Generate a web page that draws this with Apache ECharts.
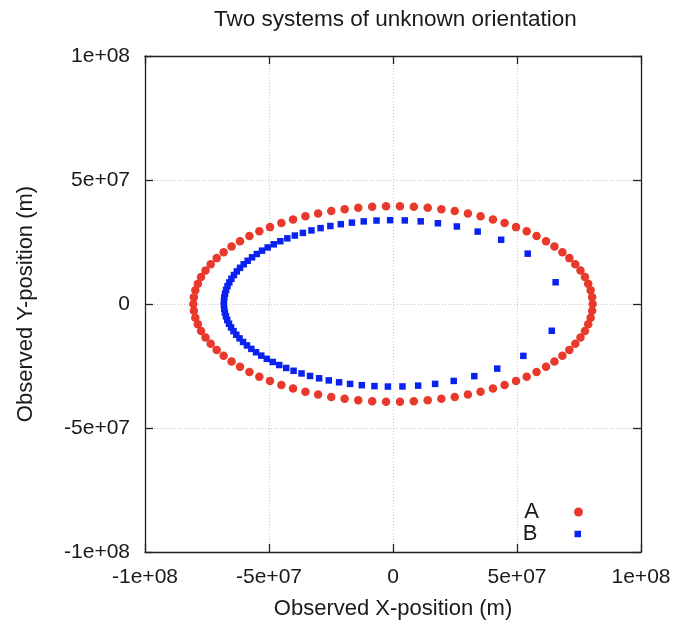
<!DOCTYPE html>
<html>
<head>
<meta charset="utf-8">
<script src="https://cdn.jsdelivr.net/npm/echarts@6/dist/echarts.min.js"></script>
<style>
  html, body { margin: 0; padding: 0; background: #fff; }
  #chart { width: 680px; height: 620px; }
</style>
</head>
<body>
<div id="chart"></div>
<script>
// Values in units of 1e6 m
const UNIT = 1e6;

const xA = [80.5, 80.3, 79.7, 78.7, 77.4, 75.6, 73.5, 71.1, 68.3, 65.1, 61.7, 57.9, 53.9, 49.6, 45.0, 40.3, 35.3, 30.2, 24.9, 19.5, 14.0, 8.4, 2.8,
  -2.8, -8.4, -14.0, -19.5, -24.9, -30.2, -35.3, -40.3, -45.0, -49.6, -53.9, -57.9, -61.7, -65.1, -68.3, -71.1, -73.5, -75.6, -77.4, -78.7, -79.7, -80.3, -80.5,
  -80.3, -79.7, -78.7, -77.4, -75.6, -73.5, -71.1, -68.3, -65.1, -61.7, -57.9, -53.9, -49.6, -45.0, -40.3, -35.3, -30.2, -24.9, -19.5, -14.0, -8.4, -2.8,
  2.8, 8.4, 14.0, 19.5, 24.9, 30.2, 35.3, 40.3, 45.0, 49.6, 53.9, 57.9, 61.7, 65.1, 68.3, 71.1, 73.5, 75.6, 77.4, 78.7, 79.7, 80.3];
const yA = [0, 2.7, 5.5, 8.2, 10.9, 13.5, 16.0, 18.5, 20.9, 23.2, 25.3, 27.4, 29.3, 31.0, 32.7, 34.1, 35.4, 36.5, 37.5, 38.2, 38.8, 39.2, 39.4,
  39.4, 39.2, 38.8, 38.2, 37.5, 36.5, 35.4, 34.1, 32.7, 31.0, 29.3, 27.4, 25.3, 23.2, 20.9, 18.5, 16.0, 13.5, 10.9, 8.2, 5.5, 2.7, 0,
  -2.7, -5.5, -8.2, -10.9, -13.5, -16.0, -18.5, -20.9, -23.2, -25.3, -27.4, -29.3, -31.0, -32.7, -34.1, -35.4, -36.5, -37.5, -38.2, -38.8, -39.2, -39.4,
  -39.4, -39.2, -38.8, -38.2, -37.5, -36.5, -35.4, -34.1, -32.7, -31.0, -29.3, -27.4, -25.3, -23.2, -20.9, -18.5, -16.0, -13.5, -10.9, -8.2, -5.5, -2.7];

const xB = [64.01,
  65.58, 54.32, 43.60, 34.15, 25.75, 18.10, 11.16, 4.76, -1.15, -6.65, -11.79, -16.57, -21.06, -25.26, -29.20, -32.88, -36.34, -39.58, -42.60, -45.44,
  -48.08, -50.53, -52.80, -54.91, -56.83, -58.61, -60.20, -61.68, -62.98, -64.14, -65.15, -66.01, -66.73, -67.30, -67.73, -68.03, -68.18,
  -68.19, -68.06, -67.79, -67.38, -66.83, -66.13, -65.29, -64.31, -63.18, -61.89, -60.46, -58.88, -57.12, -55.22, -53.13, -50.89, -48.47, -45.87,
  -43.06, -40.08, -36.87, -33.45, -29.79, -25.90, -21.74, -17.30, -12.56, -7.48, -2.05, 3.81, 10.14, 16.99, 24.48, 32.78, 42.03, 52.56];
const yB = [-10.79,
  8.76, 20.30, 25.91, 29.20, 31.26, 32.56, 33.33, 33.71, 33.80, 33.65, 33.31, 32.81, 32.18, 31.44, 30.60, 29.67, 28.67, 27.60, 26.48, 25.30,
  24.07, 22.81, 21.51, 20.17, 18.82, 17.43, 16.04, 14.59, 13.14, 11.67, 10.19, 8.70, 7.20, 5.69, 4.17, 2.65, 1.13,
  -0.39, -1.91, -3.43, -4.95, -6.46, -7.96, -9.46, -10.94, -12.41, -13.86, -15.30, -16.71, -18.10, -19.47, -20.81, -22.11, -23.38, -24.61,
  -25.80, -26.93, -28.00, -29.02, -29.96, -30.81, -31.57, -32.22, -32.74, -33.11, -33.29, -33.24, -32.91, -32.21, -31.01, -29.09, -26.05, -20.92];

const tickValues = [-1e8, -5e7, 0, 5e7, 1e8];
const tickLabels = ['-1e+08', '-5e+07', '0', '5e+07', '1e+08'];
const seriesNames = ['A', 'B'];

const dataA = xA.map((x, i) => [x * UNIT, yA[i] * UNIT]);
const dataB = xB.map((x, i) => [x * UNIT, yB[i] * UNIT]);

const FONT = '"Liberation Sans", Arial, sans-serif';
const TXT = '#1a1a1a';
function fmt(v) {
  const i = tickValues.findIndex(t => Math.abs(t - v) < 1);
  return i >= 0 ? tickLabels[i] : '';
}
const gridLine = { show: true, lineStyle: { color: '#c8c8c8', type: [1, 2], width: 1 } };
const axisLine = { show: true, onZero: false, lineStyle: { color: '#222', width: 1.3 } };
const tick = { show: true, inside: true, length: 8, lineStyle: { color: '#222', width: 1.3 } };

const chart = echarts.init(document.getElementById('chart'), null, { renderer: 'canvas' });
chart.setOption({
  animation: false,
  backgroundColor: '#fff',
  title: {
    text: 'Two systems of unknown orientation',
    left: 209, top: 3,
    textStyle: { fontFamily: FONT, fontSize: 22.5, fontWeight: 'normal', color: TXT }
  },
  grid: { left: 145, right: 39, top: 56, bottom: 68, containLabel: false, outerBoundsMode: 'none' },
  legend: [
    {
      data: [{ name: 'A', icon: 'circle' }],
      right: 92, top: 496, orient: 'vertical', align: 'right',
      itemWidth: 9, itemHeight: 9,
      textStyle: { fontFamily: FONT, fontSize: 22, color: TXT, lineHeight: 22, padding: [0, 30, 0, 0] }
    },
    {
      data: [{ name: 'B', icon: 'rect' }],
      right: 94, top: 518, orient: 'vertical', align: 'right',
      itemWidth: 6.5, itemHeight: 6.5,
      textStyle: { fontFamily: FONT, fontSize: 22, color: TXT, lineHeight: 22, padding: [0, 32, 0, 0] }
    }
  ],
  xAxis: [
    {
      type: 'value', position: 'bottom', min: -1e8, max: 1e8, interval: 5e7,
      name: 'Observed X-position (m)', nameLocation: 'middle', nameGap: 46,
      nameTextStyle: { fontFamily: FONT, fontSize: 22, color: TXT },
      axisLine: axisLine, axisTick: tick, splitLine: gridLine,
      axisLabel: { formatter: fmt, margin: 15, fontFamily: FONT, fontSize: 21, color: TXT }
    },
    {
      type: 'value', position: 'top', min: -1e8, max: 1e8, interval: 5e7,
      axisLine: axisLine, axisTick: tick, splitLine: { show: false }, axisLabel: { show: false }
    }
  ],
  yAxis: [
    {
      type: 'value', position: 'left', min: -1e8, max: 1e8, interval: 5e7,
      name: 'Observed Y-position (m)', nameLocation: 'middle', nameGap: 108,
      nameTextStyle: { fontFamily: FONT, fontSize: 22, color: TXT },
      axisLine: axisLine, axisTick: tick, splitLine: gridLine,
      axisLabel: { formatter: fmt, margin: 15, fontFamily: FONT, fontSize: 21, color: TXT }
    },
    {
      type: 'value', position: 'right', min: -1e8, max: 1e8, interval: 5e7,
      axisLine: axisLine, axisTick: tick, splitLine: { show: false }, axisLabel: { show: false }
    }
  ],
  series: [
    {
      name: seriesNames[0], type: 'scatter', xAxisIndex: 0, yAxisIndex: 0,
      symbol: 'circle', symbolSize: 8.5, data: dataA,
      itemStyle: { color: '#e8392a', opacity: 1 }
    },
    {
      name: seriesNames[1], type: 'scatter', xAxisIndex: 0, yAxisIndex: 0,
      symbol: 'rect', symbolSize: 6.5, data: dataB,
      itemStyle: { color: '#0a22f0', opacity: 1 }
    }
  ]
});
</script>
</body>
</html>
